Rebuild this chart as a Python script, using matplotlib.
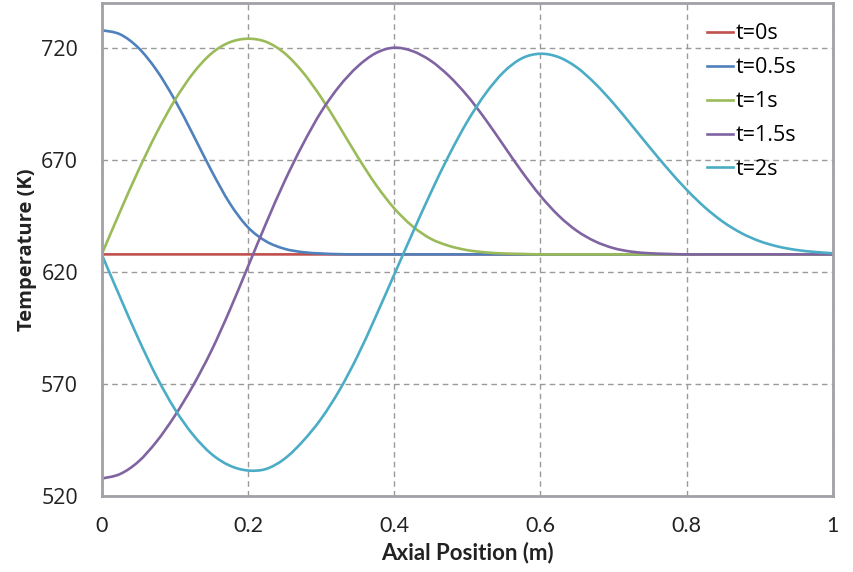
import matplotlib
matplotlib.use("Agg")
import matplotlib.pyplot as plt
from matplotlib.path import Path
from matplotlib.patches import PathPatch
from matplotlib.lines import Line2D
import numpy as np

# axial positions (m), one reading every 0.025 m
x = np.round(np.arange(0, 41) * 0.025, 3)

# temperature profiles (K) along the channel
t0 = [628] * 41
t05 = [728, 726.2, 720.2, 710.2, 696.9, 681.4, 665.4, 650.9, 640.1, 633.8, 630.5,
       629, 628.4, 628.1, 628, 628, 628, 628, 628, 628, 628, 628, 628, 628, 628, 628,
       628, 628, 628, 628, 628, 628, 628, 628, 628, 628, 628, 628, 628, 628, 628]
t1 = [628, 647, 665.3, 682.1, 696.8, 708.8, 717.6, 722.6, 724.2, 722.8, 717.8, 709.3,
      698.1, 685.1, 671.6, 659.1, 648.6, 640.6, 635, 631.8, 629.9, 628.9, 628.4,
      628.2, 628, 628, 628, 628, 628, 628, 628, 628, 628, 628, 628, 628, 628, 628,
      628, 628, 628]
t15 = [528, 530, 535.5, 544.5, 556, 569.5, 585, 603, 622.5, 642, 660.5, 677, 691.5,
       703, 711.8, 717.8, 720.2, 718.7, 714.4, 707.6, 698.8, 688.2, 676.5, 664.8,
       654.2, 645.3, 638.5, 633.8, 630.8, 629.2, 628.5, 628.2, 628, 628, 628, 628,
       628, 628, 628, 628, 628]
t2 = [628, 609, 590.5, 573.5, 559, 547.5, 539, 533.8, 531.6, 532.3, 536.8, 544.6,
      554.6, 567.3, 582.7, 600.4, 618.9, 637.4, 655.4, 672.2, 687.2, 699.7, 709.4,
      715.5, 717.5, 716, 711.4, 704.2, 695.4, 685.6, 675.6, 665.9, 656.9, 649,
      642.5, 637.5, 633.9, 631.5, 630, 629.1, 628.5]

labels = ["t=0s", "t=0.5s", "t=1s", "t=1.5s", "t=2s"]
colors = ["#C0504D", "#4F81BD", "#9BBB59", "#8064A2", "#4BACC6"]


def smooth_path(xs, ys):
    # Catmull-Rom segments written as cubic Bezier curves (smoothed line)
    p = np.column_stack([xs, ys]).astype(float)
    ext = np.vstack([p[0], p, p[-1]])
    verts = [p[0]]
    codes = [Path.MOVETO]
    for i in range(len(p) - 1):
        p0, p1, p2, p3 = ext[i], ext[i + 1], ext[i + 2], ext[i + 3]
        verts += [p1 + (p2 - p0) / 6, p2 - (p3 - p1) / 6, p2]
        codes += [Path.CURVE4] * 3
    return Path(verts, codes)


fig = plt.figure(figsize=(8.54, 5.72), dpi=100)
ax = fig.add_axes([0.1191, 0.132, 0.856, 0.8622])

handles = []
for y, lab, c in zip([t0, t05, t1, t15, t2], labels, colors):
    ax.add_patch(PathPatch(smooth_path(x, y), fill=False, edgecolor=c, lw=1.9,
                           joinstyle="round", capstyle="butt"))
    handles.append(Line2D([], [], color=c, lw=1.9, label=lab))

ax.set_xlim(0, 1)
ax.set_ylim(520, 740)
ax.set_xticks([0, 0.2, 0.4, 0.6, 0.8, 1])
ax.set_xticklabels(["0", "0.2", "0.4", "0.6", "0.8", "1"])
ax.set_yticks([520, 570, 620, 670, 720])
ax.grid(True, color="#9a9a9a", ls=(0, (4, 3)), lw=1)
ax.set_axisbelow(True)
ax.tick_params(length=0)
ax.tick_params(axis="y", pad=17, labelsize=15.5, labelcolor="#222222")
ax.tick_params(axis="x", pad=14, labelsize=15.5, labelcolor="#222222")
for lbl in ax.get_yticklabels():
    lbl.set_family("Open Sans")
for lbl in ax.get_xticklabels():
    lbl.set_family("Lato")
for s in ax.spines.values():
    s.set_color("#a0a0a6")
    s.set_linewidth(2)

ax.set_xlabel("Axial Position (m)", family="Lato", weight="bold", fontsize=16,
              labelpad=4, color="#222222")
ax.set_ylabel("Temperature (K)", family="Open Sans", weight="bold", fontsize=14.5,
              labelpad=3, color="#222222")

ax.legend(handles=handles, loc="upper left", bbox_to_anchor=(0.808, 0.99),
          frameon=False, prop={"family": "Open Sans", "size": 15.5},
          handlelength=1.2, handletextpad=0.1, labelspacing=0.6, borderaxespad=0.3)

fig.savefig("out.png", dpi=100)
